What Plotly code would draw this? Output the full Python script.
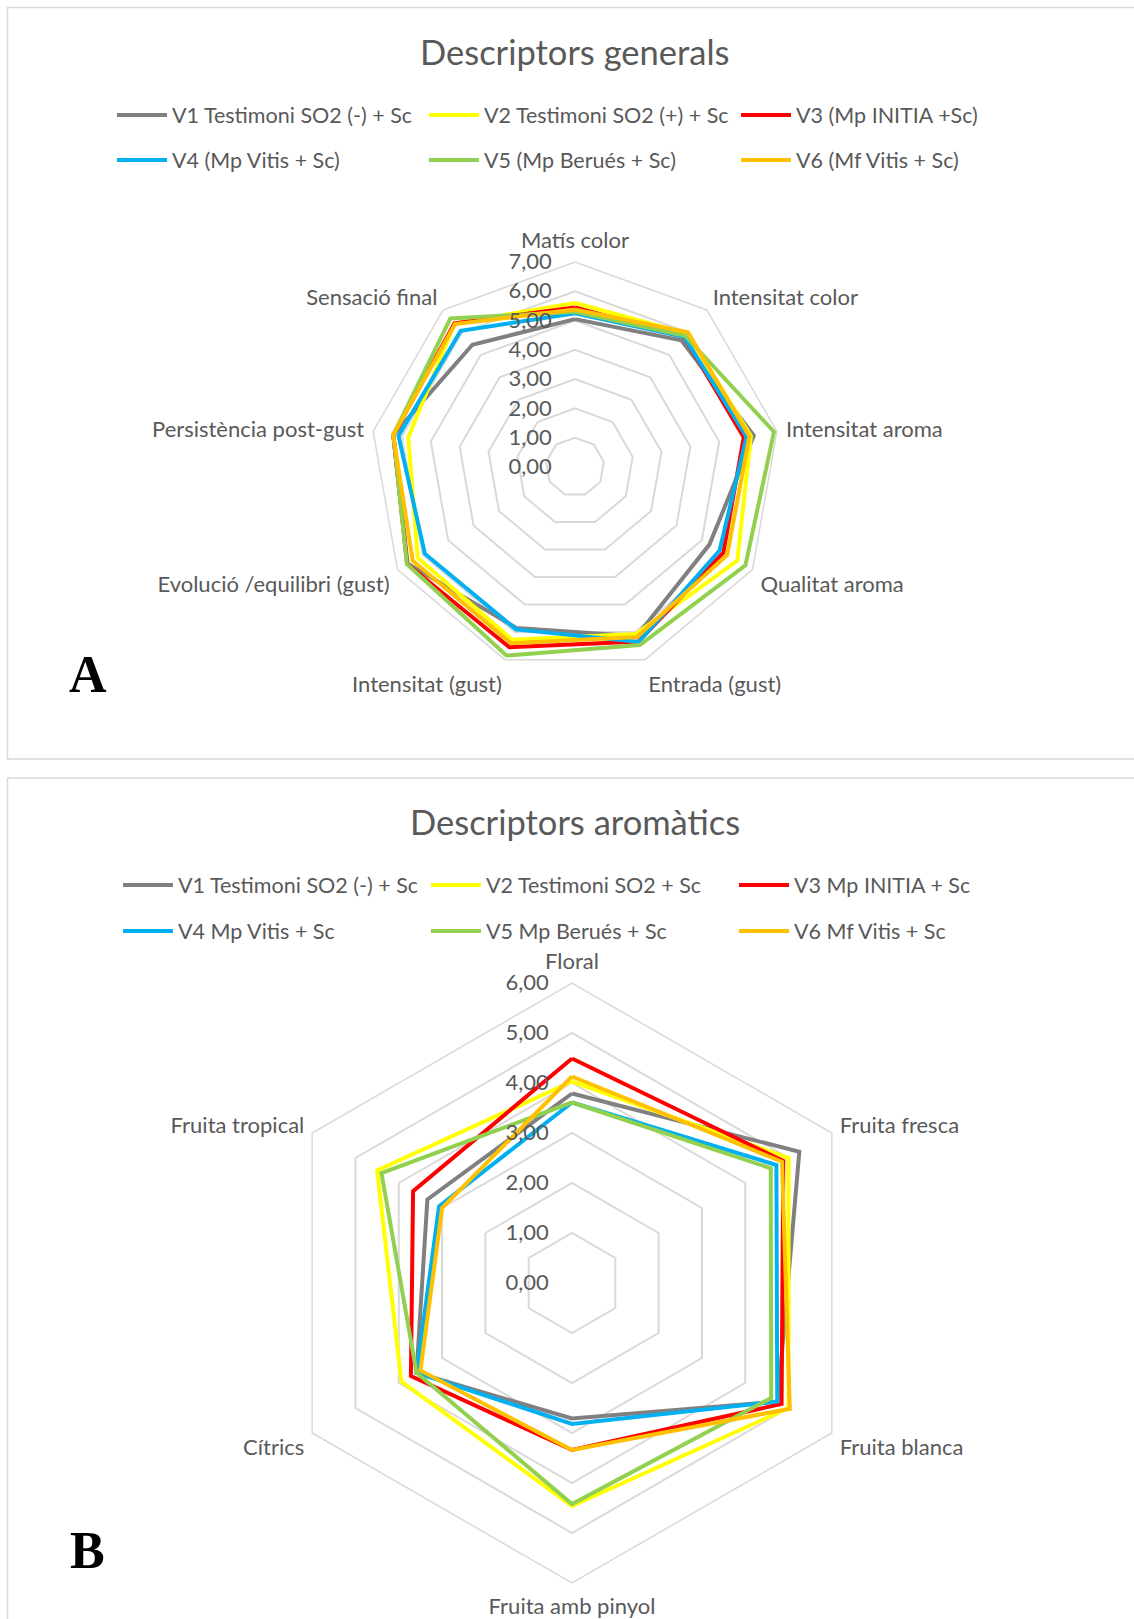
import plotly.graph_objects as go

W, H = 1134, 1619

# ---------------- Data: chart A (Descriptors generals) ----------------
cats_a = ["Matís color", "Intensitat color", "Intensitat aroma", "Qualitat aroma",
          "Entrada (gust)", "Intensitat (gust)", "Evolució /equilibri (gust)",
          "Persistència post-gust", "Sensació final"]
names_a = ["V1 Testimoni SO2 (-) + Sc", "V2 Testimoni SO2 (+) + Sc", "V3 (Mp INITIA +Sc)",
           "V4 (Mp Vitis + Sc)", "V5 (Mp Berués + Sc)", "V6 (Mf Vitis + Sc)"]
v1_a = [5.05, 5.65, 6.20, 5.30, 6.15, 5.85, 6.60, 6.30, 5.45]
v2_a = [5.60, 5.95, 6.10, 6.40, 6.07, 6.28, 6.20, 5.78, 6.40]
v3_a = [5.45, 5.80, 5.85, 5.85, 6.34, 6.55, 6.62, 6.30, 6.40]
v4_a = [5.25, 5.80, 5.95, 5.70, 6.36, 5.90, 5.92, 6.12, 6.07]
v5_a = [5.30, 5.85, 6.90, 6.72, 6.47, 6.85, 6.63, 6.30, 6.62]
v6_a = [5.38, 6.00, 6.05, 6.00, 6.18, 6.40, 6.40, 6.30, 6.37]
tickvals_a = [0, 1, 2, 3, 4, 5, 6, 7]
ticktext_a = ["0,00", "1,00", "2,00", "3,00", "4,00", "5,00", "6,00", "7,00"]

# ---------------- Data: chart B (Descriptors aromàtics) ----------------
cats_b = ["Floral", "Fruita fresca", "Fruita blanca", "Fruita amb pinyol", "Cítrics", "Fruita tropical"]
names_b = ["V1 Testimoni SO2 (-) + Sc", "V2 Testimoni SO2 + Sc", "V3 Mp INITIA + Sc",
           "V4 Mp Vitis + Sc", "V5 Mp Berués + Sc", "V6 Mf Vitis + Sc"]
v1_b = [3.79, 5.25, 4.75, 2.71, 3.59, 3.34]
v2_b = [4.03, 5.00, 5.00, 4.46, 3.94, 4.50]
v3_b = [4.49, 4.88, 4.84, 3.34, 3.72, 3.67]
v4_b = [3.61, 4.72, 4.74, 2.82, 3.59, 3.07]
v5_b = [3.61, 4.59, 4.60, 4.42, 3.59, 4.40]
v6_b = [4.13, 4.85, 5.03, 3.34, 3.50, 3.00]
tickvals_b = [0, 1, 2, 3, 4, 5, 6]
ticktext_b = ["0,00", "1,00", "2,00", "3,00", "4,00", "5,00", "6,00"]

colors = ["#808080", "#FFFF00", "#FF0000", "#00B0F0", "#92D050", "#FFC000"]

FONT = "Lato"
TXT = "#595959"
GRID = "#D9D9D9"

fig = go.Figure()

series_a = [v1_a, v2_a, v3_a, v4_a, v5_a, v6_a]
series_b = [v1_b, v2_b, v3_b, v4_b, v5_b, v6_b]

for i, (nm, vals) in enumerate(zip(names_a, series_a)):
    fig.add_trace(go.Scatterpolar(
        r=vals + vals[:1], theta=cats_a + cats_a[:1], name=nm, mode="lines",
        line=dict(color=colors[i], width=4), subplot="polar",
        legend="legend" if i < 3 else "legend2"))

for i, (nm, vals) in enumerate(zip(names_b, series_b)):
    fig.add_trace(go.Scatterpolar(
        r=vals + vals[:1], theta=cats_b + cats_b[:1], name=nm, mode="lines",
        line=dict(color=colors[i], width=4), subplot="polar2",
        legend="legend3" if i < 3 else "legend4"))


def px_x(v):
    return v / W


def px_y(v):
    return 1 - v / H


def polar_cfg(cx, cy, R, rmax, tv, tt):
    return dict(
        domain=dict(x=[px_x(cx - R), px_x(cx + R)], y=[px_y(cy + R), px_y(cy - R)]),
        bgcolor="rgba(0,0,0,0)",
        gridshape="linear",
        radialaxis=dict(range=[0, rmax], tickvals=tv, ticktext=tt, angle=90,
                        side="counterclockwise", tickangle=90, showline=False,
                        gridcolor=GRID, gridwidth=1.5, ticks="outside", ticklen=15,
                        tickcolor="rgba(0,0,0,0)",
                        tickfont=dict(family=FONT, size=22, color=TXT)),
        angularaxis=dict(rotation=90, direction="clockwise", showgrid=False,
                         linecolor=GRID, linewidth=1.5, ticks="outside", ticklen=4,
                         tickcolor="rgba(0,0,0,0)",
                         tickfont=dict(family=FONT, size=22, color=TXT)),
    )


def legend_cfg(x_text, y_center, ew):
    return dict(orientation="h", x=px_x(x_text - 60), y=px_y(y_center), xanchor="left",
                yanchor="middle", entrywidth=ew, entrywidthmode="pixels", itemwidth=50,
                font=dict(family=FONT, size=21.5, color=TXT), bgcolor="rgba(0,0,0,0)",
                borderwidth=0, traceorder="normal")


fig.update_layout(
    width=W, height=H, margin=dict(l=0, r=0, t=0, b=0),
    paper_bgcolor="white", plot_bgcolor="white",
    polar=polar_cfg(575, 467, 205, 7, tickvals_a, ticktext_a),
    polar2=polar_cfg(572, 1283, 300, 6, tickvals_b, ticktext_b),
    legend=legend_cfg(172, 115, 247),
    legend2=legend_cfg(172, 160, 247),
    legend3=legend_cfg(178, 885, 243),
    legend4=legend_cfg(178, 931, 243),
    shapes=[
        dict(type="rect", xref="paper", yref="paper", x0=px_x(7.5), x1=1.02,
             y0=px_y(759), y1=px_y(7.5), line=dict(color=GRID, width=1.5), layer="below"),
        dict(type="rect", xref="paper", yref="paper", x0=px_x(7.5), x1=1.02,
             y0=-0.02, y1=px_y(778), line=dict(color=GRID, width=1.5), layer="below"),
    ],
    annotations=[
        dict(text="Descriptors generals", x=px_x(575), y=px_y(51), xref="paper", yref="paper",
             showarrow=False, xanchor="center", yanchor="middle",
             font=dict(family=FONT, size=34.5, color=TXT)),
        dict(text="Descriptors aromàtics", x=px_x(575), y=px_y(822), xref="paper", yref="paper",
             showarrow=False, xanchor="center", yanchor="middle",
             font=dict(family=FONT, size=34.5, color=TXT)),
        dict(text="<b>A</b>", x=px_x(88), y=px_y(674), xref="paper", yref="paper",
             showarrow=False, xanchor="center", yanchor="middle",
             font=dict(family="Liberation Serif", size=52, color="black")),
        dict(text="<b>B</b>", x=px_x(87), y=px_y(1550), xref="paper", yref="paper",
             showarrow=False, xanchor="center", yanchor="middle",
             font=dict(family="Liberation Serif", size=52, color="black")),
    ],
)

fig.write_html("out.html")
